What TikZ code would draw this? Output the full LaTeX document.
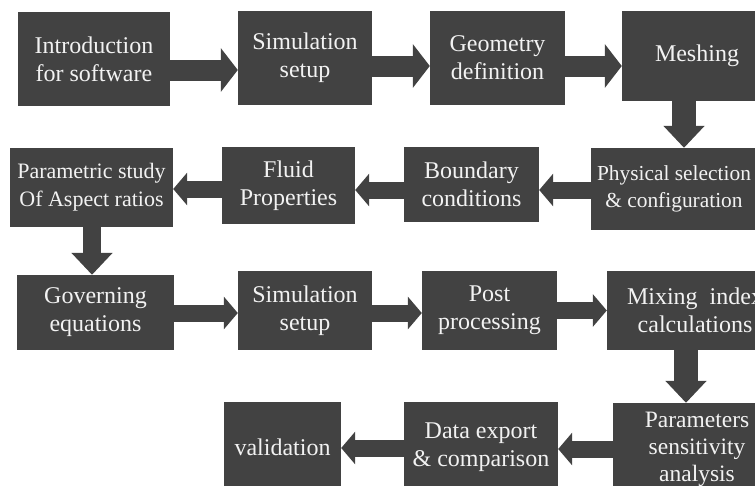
\documentclass[tikz,border=0pt]{standalone}
\usepackage{fontspec}
\setmainfont{Liberation Serif}
\usepackage{tikz}
\usetikzlibrary{arrows.meta,positioning}
\definecolor{slab}{RGB}{66,66,66}
\definecolor{paper}{RGB}{242,242,242}

\begin{document}
\begin{tikzpicture}[x=1pt,y=-1pt,
  blk/.style={fill=slab,text=paper,align=center,inner sep=0pt,
    font=\fontsize{24}{28}\selectfont},
  flow/.style={draw=slab,line width=21pt,-{Triangle[length=17pt,width=43pt]}},
  slim/.style={draw=slab,line width=17pt,-{Triangle[length=14pt,width=32pt]}},
  drop/.style={draw=slab,line width=24pt,-{Triangle[length=22pt,width=40pt]}}]
  \useasboundingbox (0,0) rectangle (755,485);
  \clip (0,0) rectangle (755,485);
  % first row
  \node[blk,minimum width=152pt,minimum height=94pt] (intro) at (94,59) {Introduction\\for software};
  \node[blk,minimum width=134pt,minimum height=94pt] (setupA) at (305,58) {Simulation\\setup};
  \node[blk,minimum width=135pt,minimum height=94pt] (geom) at (497.5,58) {Geometry\\definition};
  \node[blk,minimum width=150pt,minimum height=90pt] (mesh) at (697,55.5) {Meshing};
  % second row
  \node[blk,minimum width=166pt,minimum height=82pt,font=\fontsize{21.4}{27}\selectfont] (phys) at (674,189) {Physical selection\\\& configuration};
  \node[blk,minimum width=135pt,minimum height=75pt] (bound) at (471.5,184.5) {Boundary\\conditions};
  \node[blk,minimum width=133pt,minimum height=77pt] (fluid) at (288.5,185.5) {Fluid\\Properties};
  \node[blk,minimum width=163pt,minimum height=79pt,font=\fontsize{22}{28}\selectfont] (param) at (91.5,187.5) {Parametric study\\Of Aspect ratios};
  % third row
  \node[blk,minimum width=157pt,minimum height=75pt] (gov) at (95.5,312.5) {Governing\\equations};
  \node[blk,minimum width=134pt,minimum height=79pt] (setupB) at (305,310.5) {Simulation\\setup};
  \node[blk,minimum width=135pt,minimum height=79pt] (post) at (489.5,310.5) {Post\\processing};
  \node[blk,minimum width=176pt,minimum height=79pt] (mix) at (695,310.5) {Mixing~~index\\calculations};
  % fourth row
  \node[blk,minimum width=168pt,minimum height=92pt,font=\fontsize{23.5}{27}\selectfont] (sens) at (697,449) {Parameters\\sensitivity\\analysis};
  \node[blk,minimum width=154pt,minimum height=90pt] (export) at (481,447) {Data export\\\& comparison};
  \node[blk,minimum width=117pt,minimum height=90pt] (valid) at (282.5,447) {validation};

  \draw[flow] ([yshift=-11pt]intro.east) -- ([yshift=-12pt]setupA.west);
  \draw[flow] ([yshift=-8pt]setupA.east) -- ([yshift=-8pt]geom.west);
  \draw[flow] ([yshift=-8pt]geom.east) -- ([yshift=-10.5pt]mesh.west);
  \draw[drop] ([xshift=-13pt]mesh.south) -- ([xshift=10pt]phys.north);
  \draw[slim] ([yshift=-1pt]phys.west) -- ([yshift=-5.5pt]bound.east);
  \draw[slim] ([yshift=-5.5pt]bound.west) -- ([yshift=-4.5pt]fluid.east);
  \draw[slim] ([yshift=-3.5pt]fluid.west) -- ([yshift=-1.5pt]param.east);
  \draw[drop,line width=18pt] ([xshift=0.5pt]param.south) -- ([xshift=-3.5pt]gov.north);
  \draw[slim] ([yshift=-0.5pt]gov.east) -- ([yshift=-2.5pt]setupB.west);
  \draw[slim] ([yshift=-2.5pt]setupB.east) -- ([yshift=-2.5pt]post.west);
  \draw[slim] (post.east) -- (mix.west);
  \draw[drop] ([xshift=-9pt]mix.south) -- ([xshift=-11pt]sens.north);
  \draw[slim] (sens.west) -- ([yshift=-2pt]export.east);
  \draw[slim] ([yshift=-1pt]export.west) -- ([yshift=-1pt]valid.east);
\end{tikzpicture}
\end{document}
